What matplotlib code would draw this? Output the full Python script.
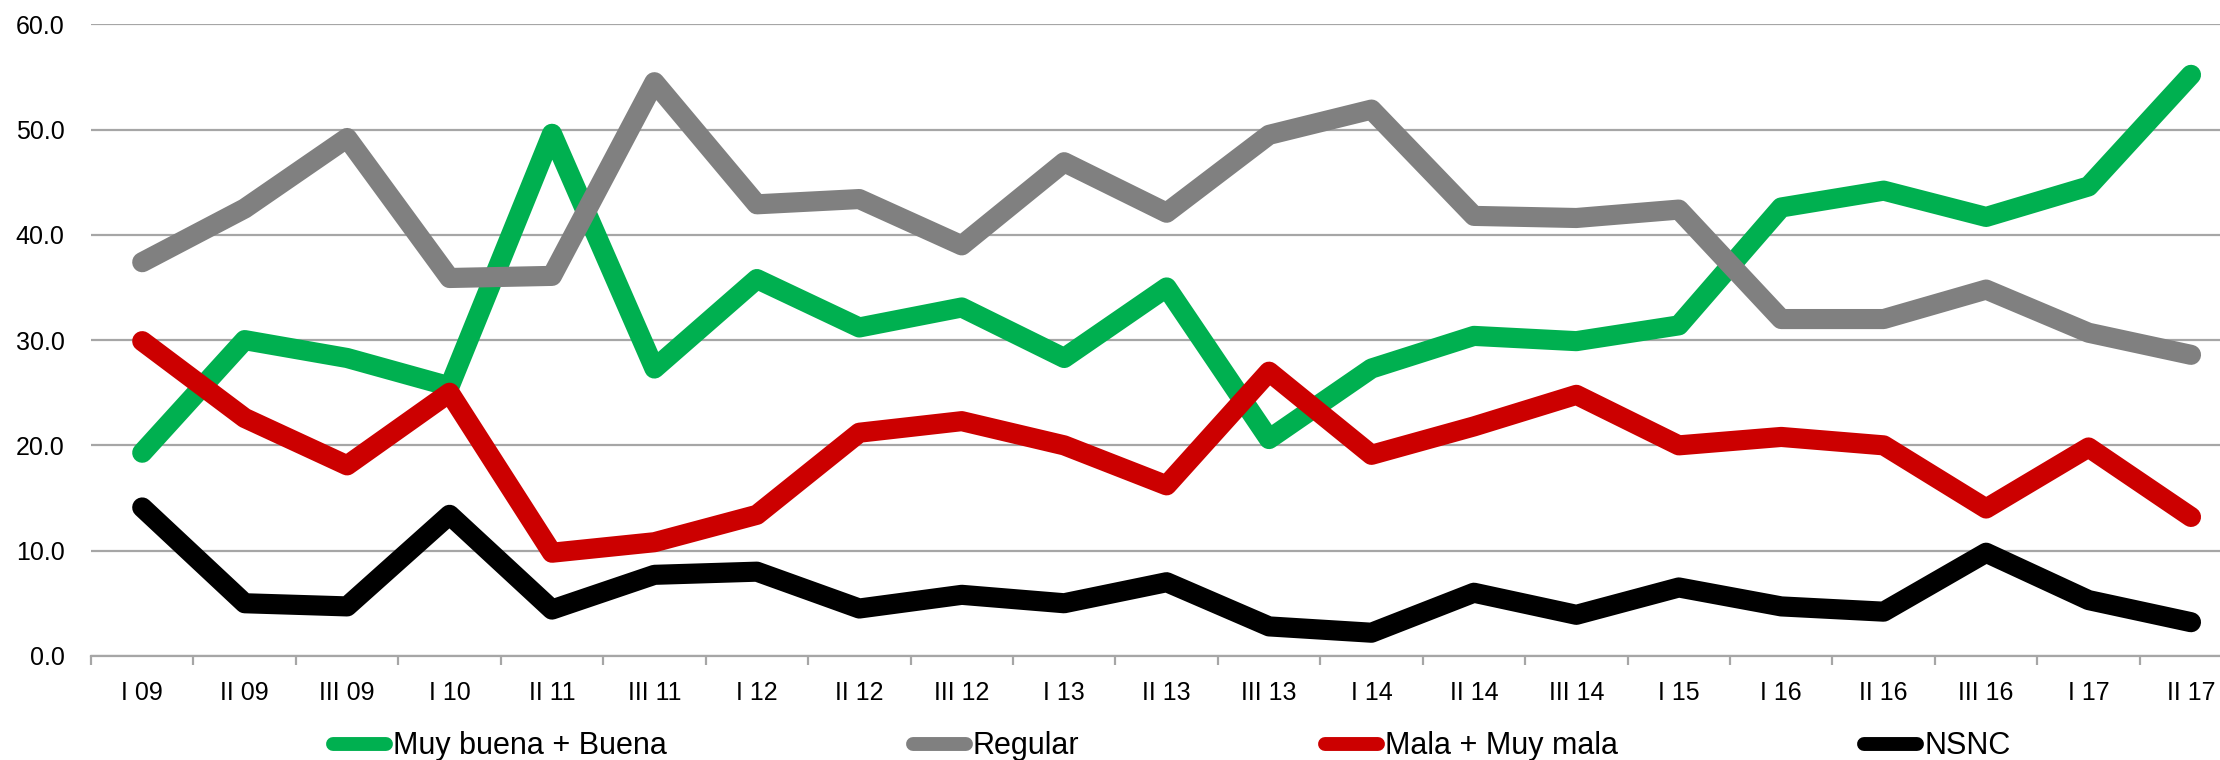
"""
Valoración por trimestre: cuatro series de porcentajes
"""

import matplotlib

matplotlib.use("Agg")
import matplotlib.pyplot as plt
import numpy as np
from matplotlib.lines import Line2D

plt.rcParams["font.family"] = ["Liberation Sans", "DejaVu Sans"]

## Periods on the x axis
periods = [
    "I 09", "II 09", "III 09", "I 10", "II 11", "III 11", "I 12",
    "II 12", "III 12", "I 13", "II 13", "III 13", "I 14", "II 14",
    "III 14", "I 15", "I 16", "II 16", "III 16", "I 17", "II 17",
]

muy_buena_buena = [
    19.3, 30.0, 28.3, 25.6, 49.6, 27.3, 35.8, 31.2, 33.1, 28.3, 35.0,
    20.6, 27.3, 30.4, 29.9, 31.4, 42.6, 44.2, 41.7, 44.6, 55.2,
]
regular = [
    37.4, 42.5, 49.2, 35.9, 36.1, 54.5, 42.9, 43.4, 39.0, 46.9, 42.1,
    49.5, 51.9, 41.8, 41.6, 42.4, 32.0, 32.0, 34.8, 30.7, 28.6,
]
mala_muy_mala = [
    29.9, 22.6, 18.1, 25.0, 9.8, 10.8, 13.4, 21.2, 22.3, 20.0, 16.2,
    27.0, 19.1, 21.8, 24.8, 20.0, 20.8, 20.0, 14.0, 19.8, 13.2,
]
nsnc = [
    14.1, 5.0, 4.7, 13.4, 4.4, 7.7, 8.0, 4.5, 5.8, 5.0, 7.0,
    2.8, 2.2, 6.0, 3.9, 6.5, 4.7, 4.2, 9.8, 5.3, 3.2,
]

series = [
    ("Muy buena + Buena", muy_buena_buena, "#00B050"),
    ("Regular", regular, "#808080"),
    ("Mala + Muy mala", mala_muy_mala, "#CC0000"),
    ("NSNC", nsnc, "#000000"),
]


def plot_data() -> None:
    fig = plt.figure(figsize=(22.2, 7.6), dpi=100)
    # axes run a little past the right border of the canvas
    ax = fig.add_axes([0.041, 0.137, 0.969, 0.831])

    x = np.arange(len(periods))
    handles = []
    for name, values, color in series:
        ax.plot(
            x,
            values,
            color=color,
            lw=14.5,
            solid_capstyle="round",
            solid_joinstyle="round",
        )
        # thinner stroke for the legend keys
        handles.append(
            Line2D([], [], color=color, lw=10, solid_capstyle="round",
                   label=name)
        )

    ax.set_xlim(-0.5, len(periods) - 0.5)
    ax.set_ylim(0, 60)
    ax.set_yticks(np.arange(0, 61, 10))
    ax.set_yticklabels([f"{v:.1f}" for v in np.arange(0, 61, 10)])
    ax.set_xticks(x)
    ax.set_xticklabels(periods)
    ax.set_xticks(np.arange(-0.5, len(periods), 1.0), minor=True)

    ax.yaxis.grid(True, color="#A6A6A6", lw=1.6)
    ax.set_axisbelow(True)
    for side in ["top", "right", "left"]:
        ax.spines[side].set_visible(False)
    ax.spines["bottom"].set_color("#A6A6A6")
    ax.spines["bottom"].set_linewidth(1.6)

    ax.tick_params(axis="y", length=0, pad=19, labelsize=18)
    ax.tick_params(axis="x", which="major", length=0, pad=18, labelsize=18)
    ax.tick_params(axis="x", which="minor", length=6.5, width=1.6,
                   color="#A6A6A6")

    fig.legend(
        handles=handles,
        loc="center left",
        bbox_to_anchor=(0.1432, 0.018),
        ncol=4,
        frameon=False,
        fontsize=22,
        borderpad=0,
        handlelength=1.73,
        handletextpad=0.23,
        columnspacing=8.05,
    )

    fig.savefig("out.png", dpi=100)


if __name__ == "__main__":
    plot_data()
